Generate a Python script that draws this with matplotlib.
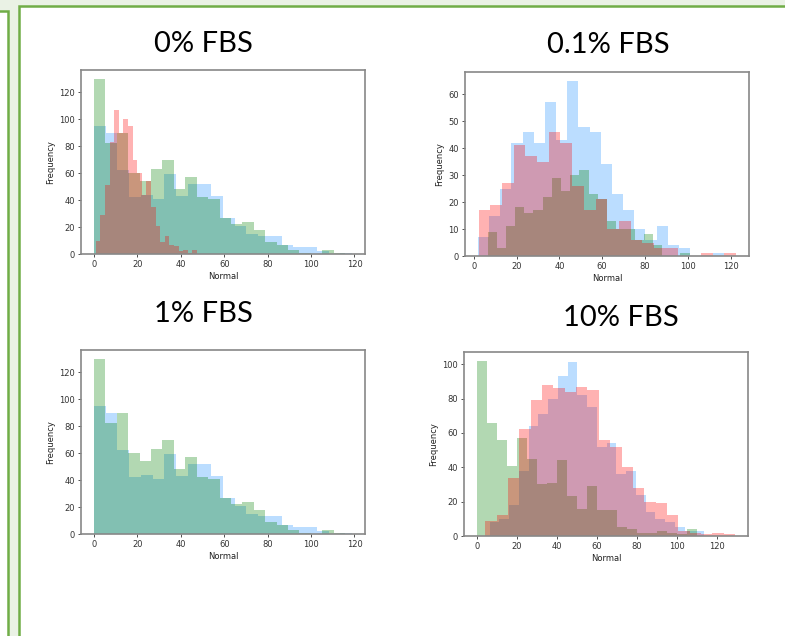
import numpy as np
import matplotlib.pyplot as plt
from matplotlib.patches import Rectangle
from matplotlib.ticker import MultipleLocator

# counts per bin (22 bins per sample), and the (min, max) range of each sample
blue_a = [95, 90, 62, 42, 44, 41, 59, 43, 52, 52, 43, 27, 21, 15, 13, 13, 7, 5, 5, 2, 0, 1]
blue_a_range = (0.0, 118.9)
green_a = [130, 82, 90, 60, 54, 63, 70, 48, 57, 42, 41, 27, 22, 24, 18, 9, 7, 3, 1, 0, 3, 1]
green_a_range = (0.0, 115.7)
red_a = [10, 29, 51, 83, 107, 90, 100, 95, 70, 60, 44, 54, 35, 21, 9, 13, 7, 6, 2, 3, 1, 3]
red_a_range = (0.9, 47.5)

blue_b = [7, 15, 25, 42, 46, 42, 57, 43, 65, 48, 46, 34, 23, 17, 10, 6, 11, 4, 3, 0, 0, 1]
blue_b_range = (1.9, 116.8)
green_b = [9, 3, 11, 18, 16, 17, 22, 29, 24, 30, 32, 23, 21, 13, 10, 10, 6, 8, 4, 0, 0, 1]
green_b_range = (6.4, 100.9)
red_b = [17, 19, 27, 41, 37, 35, 46, 42, 26, 17, 21, 10, 13, 6, 5, 3, 3, 0, 0, 1, 0, 1]
red_b_range = (2.2, 122.6)

blue_d = [8, 10, 18, 38, 64, 71, 80, 93, 101, 82, 75, 52, 54, 36, 38, 24, 14, 10, 8, 5, 3, 3]
blue_d_range = (6.3, 113.5)
green_d = [102, 66, 56, 41, 57, 45, 30, 31, 44, 23, 16, 29, 15, 15, 5, 4, 2, 2, 3, 2, 1, 4]
green_d_range = (0.0, 110.0)
red_d = [9, 12, 34, 62, 79, 88, 86, 84, 87, 85, 56, 52, 40, 28, 20, 19, 12, 3, 2, 1, 2, 1]
red_d_range = (4.2, 129.0)

titles = ['0% FBS', '0.1% FBS', '1% FBS', '10% FBS']

W, H = 785, 636
fig = plt.figure(figsize=(W / 100, H / 100), dpi=100, facecolor='#eaf2e5')


def frac_box(left, top, right, bottom):
    # pixel box (from top-left) -> figure fraction rect
    return [left / W, 1 - bottom / H, (right - left) / W, (bottom - top) / H]


# slide frames, kept behind the axes
border = '#70ad47'
fig.patches.append(Rectangle((-0.05, -0.05), 0.05 + 8 / W, 1.05 - 11 / H,
                             transform=fig.transFigure, facecolor='white',
                             edgecolor=border, linewidth=1.8, zorder=-5))
fig.patches.append(Rectangle((19 / W, -0.05), 1.1, 1.05 - 6 / H,
                             transform=fig.transFigure, facecolor='white',
                             edgecolor=border, linewidth=1.8, zorder=-5))


def draw_panel(ax, series, ystep):
    for values, (lo, hi), color in series:
        edges = np.linspace(lo, hi, len(values) + 1)
        ax.hist(edges[:-1], bins=edges, weights=values, color=color, alpha=0.3)
    ax.xaxis.set_major_locator(MultipleLocator(20))
    ax.yaxis.set_major_locator(MultipleLocator(ystep))
    ax.set_xlabel('Normal', fontsize=6, color='#222222', labelpad=2)
    ax.set_ylabel('Frequency', fontsize=6, color='#222222', labelpad=3)
    ax.tick_params(labelsize=6, length=2.5, width=0.6, colors='#333333', pad=2)
    for sp in ax.spines.values():
        sp.set_color('#888888')
        sp.set_linewidth(1.2)


ax1 = fig.add_axes(frac_box(81, 70, 365, 254))
draw_panel(ax1, [(blue_a, blue_a_range, 'dodgerblue'),
                 (green_a, green_a_range, 'g'),
                 (red_a, red_a_range, 'r')], 20)

ax2 = fig.add_axes(frac_box(465, 72, 749, 256))
draw_panel(ax2, [(blue_b, blue_b_range, 'dodgerblue'),
                 (green_b, green_b_range, 'g'),
                 (red_b, red_b_range, 'r')], 10)

ax3 = fig.add_axes(frac_box(81, 350, 365, 534))
draw_panel(ax3, [(blue_a, blue_a_range, 'dodgerblue'),
                 (green_a, green_a_range, 'g')], 20)

ax4 = fig.add_axes(frac_box(464, 352, 748, 536))
draw_panel(ax4, [(blue_d, blue_d_range, 'dodgerblue'),
                 (green_d, green_d_range, 'g'),
                 (red_d, red_d_range, 'r')], 20)

# slide titles above each chart
title_pos = [(203, 44), (608, 45), (203, 314), (621, 318)]
for t, (x, y) in zip(titles, title_pos):
    fig.text(x / W, 1 - y / H, t, ha='center', va='center', fontsize=21,
             family='Lato', color='black')

fig.savefig('out.png', dpi=100, facecolor=fig.get_facecolor())
